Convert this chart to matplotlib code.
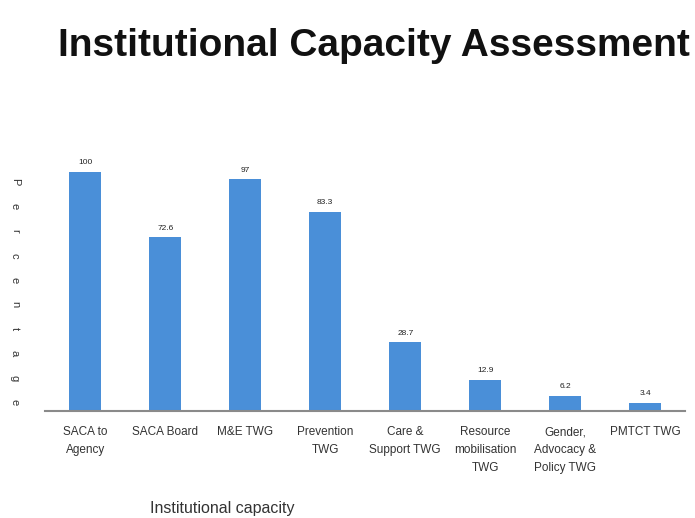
import matplotlib.pyplot as plt
import numpy as np

categories = [
    "SACA to\nAgency",
    "SACA Board",
    "M&E TWG",
    "Prevention\nTWG",
    "Care &\nSupport TWG",
    "Resource\nmobilisation\nTWG",
    "Gender,\nAdvocacy &\nPolicy TWG",
    "PMTCT TWG",
]
values = [100, 72.6, 97, 83.3, 28.7, 12.9, 6.2, 3.4]
value_labels = ["100", "72.6", "97", "83.3", "28.7", "12.9", "6.2", "3.4"]

plt.rcParams["font.family"] = ["Liberation Sans", "DejaVu Sans"]

fig = plt.figure(figsize=(6.95, 5.18), dpi=100)
ax = fig.add_axes([0.065, 0.207, 0.921, 0.507])

x = np.arange(len(categories))
bars = ax.bar(x, values, width=0.4, color="#4a8fd8")

for b, lab in zip(bars, value_labels):
    ax.annotate(lab, (b.get_x() + b.get_width() / 2, b.get_height()),
                xytext=(0, 4), textcoords="offset points",
                ha="center", va="bottom", fontsize=6, color="#222222")

ax.set_xlim(-0.5, len(categories) - 0.5)
ax.set_ylim(0, 110)
ax.set_xticks(x)
ax.set_xticklabels(categories, fontsize=8.5, color="#333333", linespacing=1.65)
ax.tick_params(axis="x", length=0, pad=11)
ax.set_yticks([])
for side in ["top", "right", "left"]:
    ax.spines[side].set_visible(False)
ax.spines["bottom"].set_color("#8a8a8a")
ax.spines["bottom"].set_linewidth(1.5)

fig.text(0.538, 0.912, "Institutional Capacity Assessment",
         ha="center", va="center", fontsize=28, fontweight="bold", color="#111111")

fig.text(222 / 695, 1 - 508 / 518, "Institutional capacity",
         ha="center", va="center", fontsize=11.5, color="#333333")

# stacked vertical axis title
ylab = "Percentage"
for i, ch in enumerate(ylab):
    yy = 1 - (182 + i * 24.5) / 518
    fig.text(15 / 695, yy, ch, ha="center", va="center", rotation=-90,
             fontsize=8, color="#333333")

fig.savefig("out.png", dpi=100)
